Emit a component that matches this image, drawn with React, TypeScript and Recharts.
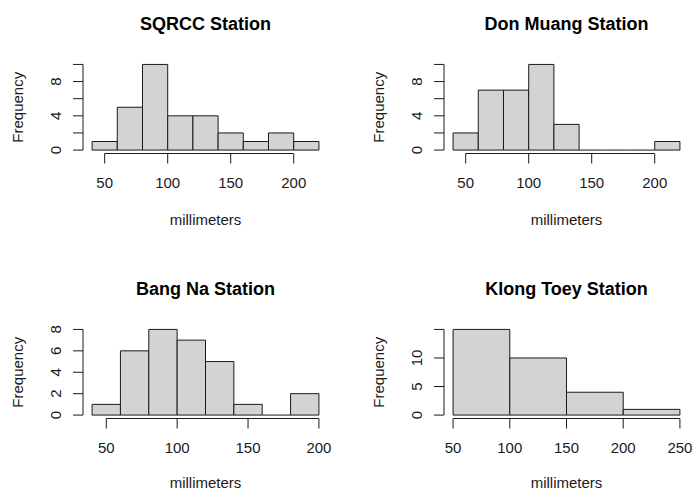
import {
  ComposedChart,
  XAxis,
  YAxis,
  Line,
  ReferenceArea,
  ReferenceLine,
} from "recharts";

// Rainfall histograms (bin breaks + frequencies) for four Bangkok stations
const sqrccBreaks = [40, 60, 80, 100, 120, 140, 160, 180, 200, 220];
const sqrccCounts = [1, 5, 10, 4, 4, 2, 1, 2, 1];

const donMuangBreaks = [40, 60, 80, 100, 120, 140, 160, 180, 200, 220];
const donMuangCounts = [2, 7, 7, 10, 3, 0, 0, 0, 1];

const bangNaBreaks = [40, 60, 80, 100, 120, 140, 160, 180, 200];
const bangNaCounts = [1, 6, 8, 7, 5, 1, 0, 2];

const klongToeyBreaks = [50, 100, 150, 200, 250];
const klongToeyCounts = [15, 10, 4, 1];

const xTicksShort = [50, 100, 150, 200];
const xTicksLong = [50, 100, 150, 200, 250];

const yTicksTen = [0, 2, 4, 6, 8, 10];
const yLabelsTen = [0, 4, 8];
const yTicksEight = [0, 2, 4, 6, 8];
const yTicksFifteen = [0, 5, 10, 15];
const yLabelsFifteen = [0, 5, 10];

const FONT = '"Liberation Sans", Arial, Helvetica, sans-serif';
const INK = "#1a1a1a";
const BAR_FILL = "#d3d3d3";

// panel geometry: plot area sits at (PLOT_LEFT, PLOT_TOP) inside each panel
const PAGE_H = 491;
const PANEL_W = 347;
const PANEL_H = 240;
const PLOT_LEFT = 83;
const PLOT_TOP = 61;
const PLOT_W = 245;
const PLOT_H = 92.5;
const Y_AXIS_W = 60;
const X_AXIS_H = 60;
const TICK_LEN = 10;

type HistPanel = {
  title: string;
  breaks: number[];
  counts: number[];
  xTicks: number[];
  yTicks: number[];
  yLabels: number[];
};

const panels: HistPanel[] = [
  { title: "SQRCC Station", breaks: sqrccBreaks, counts: sqrccCounts, xTicks: xTicksShort, yTicks: yTicksTen, yLabels: yLabelsTen },
  { title: "Don Muang Station", breaks: donMuangBreaks, counts: donMuangCounts, xTicks: xTicksShort, yTicks: yTicksTen, yLabels: yLabelsTen },
  { title: "Bang Na Station", breaks: bangNaBreaks, counts: bangNaCounts, xTicks: xTicksShort, yTicks: yTicksEight, yLabels: yTicksEight },
  { title: "Klong Toey Station", breaks: klongToeyBreaks, counts: klongToeyCounts, xTicks: xTicksLong, yTicks: yTicksFifteen, yLabels: yLabelsFifteen },
];

const panelPos = [
  { left: 0, top: 0 },
  { left: 361, top: 0 },
  { left: 0, top: 264.6 },
  { left: 361, top: 264.6 },
];

// base-graphics style range: data range widened by 4% each side
function padDomain(lo: number, hi: number): [number, number] {
  const e = (hi - lo) * 0.04;
  return [lo - e, hi + e];
}

function XTick(props: any) {
  const { x, y, payload } = props;
  return (
    <text x={x} y={y + 24} textAnchor="middle" fontFamily={FONT} fontSize={15} fill={INK}>
      {payload.value}
    </text>
  );
}

function YTick(props: any) {
  const { x, y, payload, labels } = props;
  if (!labels.includes(payload.value)) return <g />;
  const bx = x - 11.6;
  return (
    <text
      x={bx}
      y={y}
      transform={`rotate(-90, ${bx}, ${y})`}
      textAnchor="middle"
      fontFamily={FONT}
      fontSize={15}
      fill={INK}
    >
      {payload.value}
    </text>
  );
}

function Histogram({ panel, left, top }: { panel: HistPanel; left: number; top: number }) {
  const { breaks, counts } = panel;
  const data = counts.map((count, i) => ({ mid: (breaks[i] + breaks[i + 1]) / 2, count }));
  const xDomain = padDomain(breaks[0], breaks[breaks.length - 1]);
  const yDomain = padDomain(0, Math.max(...counts));
  const xFirst = panel.xTicks[0];
  const xLast = panel.xTicks[panel.xTicks.length - 1];
  const yLast = panel.yTicks[panel.yTicks.length - 1];
  const cx = PLOT_LEFT + PLOT_W / 2;
  // keep the bottom row's axis title inside the page
  const xTitleY = Math.min(PLOT_TOP + PLOT_H + 71.5, PAGE_H - top - 3.5);

  return (
    <div style={{ position: "absolute", left, top, width: PANEL_W, height: PANEL_H }}>
      <ComposedChart
        width={PANEL_W}
        height={PANEL_H}
        data={data}
        margin={{
          top: PLOT_TOP,
          left: PLOT_LEFT - Y_AXIS_W,
          right: PANEL_W - PLOT_LEFT - PLOT_W,
          bottom: PANEL_H - PLOT_TOP - PLOT_H - X_AXIS_H,
        }}
      >
        <XAxis
          type="number"
          dataKey="mid"
          domain={xDomain}
          ticks={panel.xTicks}
          interval={0}
          height={X_AXIS_H}
          axisLine={false}
          stroke={INK}
          tickLine={{ stroke: INK }}
          tickSize={TICK_LEN}
          tickMargin={0}
          tick={(p: any) => <XTick {...p} />}
        />
        <YAxis
          type="number"
          domain={yDomain}
          ticks={panel.yTicks}
          interval={0}
          width={Y_AXIS_W}
          axisLine={false}
          stroke={INK}
          tickLine={{ stroke: INK }}
          tickSize={TICK_LEN}
          tickMargin={0}
          tick={(p: any) => <YTick {...p} labels={panel.yLabels} />}
        />
        {counts.map((count, i) =>
          count > 0 ? (
            <ReferenceArea
              key={i}
              x1={breaks[i]}
              x2={breaks[i + 1]}
              y1={0}
              y2={count}
              fill={BAR_FILL}
              fillOpacity={1}
              stroke={INK}
              strokeWidth={1}
              ifOverflow="visible"
            />
          ) : (
            <ReferenceLine
              key={i}
              segment={[
                { x: breaks[i], y: 0 },
                { x: breaks[i + 1], y: 0 },
              ]}
              stroke={INK}
              ifOverflow="visible"
            />
          )
        )}
        {/* axis lines only span the first..last tick */}
        <ReferenceLine
          segment={[
            { x: xFirst, y: yDomain[0] },
            { x: xLast, y: yDomain[0] },
          ]}
          stroke={INK}
          ifOverflow="visible"
        />
        <ReferenceLine
          segment={[
            { x: xDomain[0], y: 0 },
            { x: xDomain[0], y: yLast },
          ]}
          stroke={INK}
          ifOverflow="visible"
        />
        <Line dataKey="count" stroke="none" dot={false} activeDot={false} isAnimationActive={false} />
      </ComposedChart>
      <svg
        width={PANEL_W}
        height={PANEL_H}
        style={{ position: "absolute", left: 0, top: 0, pointerEvents: "none" }}
      >
        <text x={cx} y={30} textAnchor="middle" fontFamily={FONT} fontSize={18} fontWeight="bold" fill="#000">
          {panel.title}
        </text>
        <text x={cx} y={xTitleY} textAnchor="middle" fontFamily={FONT} fontSize={15} fill={INK}>
          millimeters
        </text>
        <text
          x={23}
          y={PLOT_TOP + PLOT_H / 2}
          transform={`rotate(-90, 23, ${PLOT_TOP + PLOT_H / 2})`}
          textAnchor="middle"
          fontFamily={FONT}
          fontSize={15}
          fill={INK}
        >
          Frequency
        </text>
      </svg>
    </div>
  );
}

export default function App() {
  return (
    <div
      style={{
        position: "absolute",
        left: 0,
        top: 0,
        width: 694,
        height: PAGE_H,
        overflow: "hidden",
        background: "#fff",
      }}
    >
      {panels.map((panel, i) => (
        <Histogram key={panel.title} panel={panel} left={panelPos[i].left} top={panelPos[i].top} />
      ))}
    </div>
  );
}
